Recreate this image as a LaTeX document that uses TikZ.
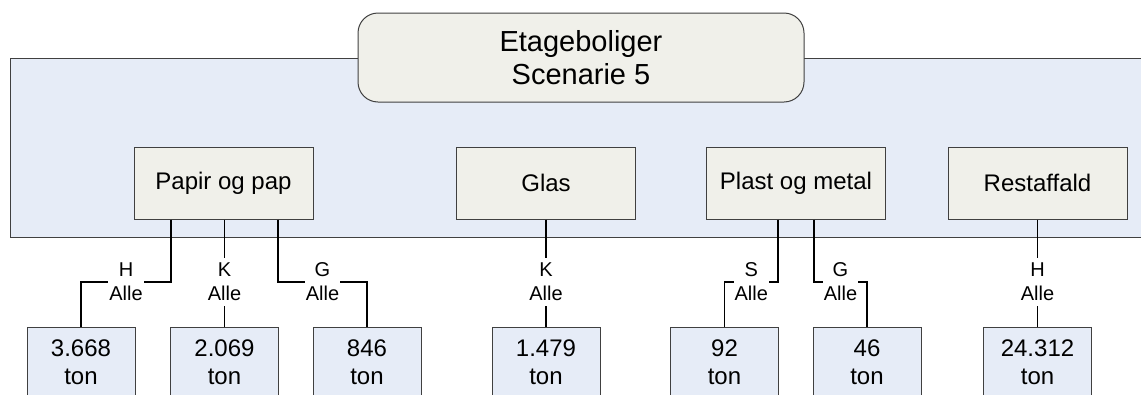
\documentclass[tikz,border=0pt]{standalone}
\usepackage{fontspec}
\setmainfont{Liberation Sans}
\usetikzlibrary{calc}
\definecolor{bgblue}{RGB}{230,236,247}
\definecolor{boxfill}{RGB}{240,240,234}
\definecolor{edgegray}{RGB}{64,64,64}
\begin{document}
\begin{tikzpicture}[x=1pt,y=-1pt,
 region/.style={draw=edgegray, line width=1pt, fill=bgblue, inner sep=0pt, minimum width=1150pt, minimum height=179pt},
 titlebox/.style={draw=edgegray, line width=1pt, fill=boxfill, rounded corners=20pt, minimum width=446pt, minimum height=89pt, align=center, font=\fontsize{29}{33}\selectfont, inner sep=0pt},
 catbox/.style={draw=edgegray, line width=1pt, fill=boxfill, minimum width=179pt, minimum height=72pt, font=\fontsize{24}{28}\selectfont, inner sep=0pt},
 resbox/.style={draw=edgegray, line width=1pt, fill=bgblue, minimum width=108pt, minimum height=70pt, align=center, font=\fontsize{24}{28}\selectfont, inner sep=0pt},
 lbl/.style={fill=white, align=center, inner xsep=1pt, inner ysep=5pt, font=\fontsize{20}{24}\selectfont},
 conn/.style={draw=black, line width=1.5pt}]
\clip (0,0) rectangle (1141,394);
\node[region] (reg) at (585,147.5) {};
\node[titlebox] (title) at (581,57.5) {Etageboliger\\Scenarie 5};
\node[catbox] (pap) at (223.5,183) {Papir og pap};
\node[catbox] (glas) at (546,183) {Glas};
\node[catbox] (plast) at (796,183) {Plast og metal};
\node[catbox] (rest) at (1037.5,183) {Restaffald};
\node[resbox] (r1) at (81,362) {3.668\\ton};
\node[resbox] (r2) at (224.5,362) {2.069\\ton};
\node[resbox] (r3) at (367,362) {846\\ton};
\node[resbox] (r4) at (546,362) {1.479\\ton};
\node[resbox] (r5) at (724.5,362) {92\\ton};
\node[resbox] (r6) at (867,362) {46\\ton};
\node[resbox] (r7) at (1037.5,362) {24.312\\ton};
\coordinate (e1) at (171,282);
\coordinate (e3) at (278,282);
\coordinate (e5) at (778,282);
\coordinate (e6) at (814,282);
\draw[conn] (e1 |- pap.south) -- (e1) -| (r1.north);
\draw[conn] (pap.south -| r2.north) -- (r2.north);
\draw[conn] (e3 |- pap.south) -- (e3) -| (r3.north);
\draw[conn] (glas.south) -- (r4.north);
\draw[conn] (e5 |- plast.south) -- (e5) -| (r5.north);
\draw[conn] (e6 |- plast.south) -- (e6) -| (r6.north);
\draw[conn] (rest.south) -- (r7.north);
\node[lbl] (l1) at ($(e1)!0.5!(e1 -| r1.north)$) {H\\Alle};
\node[lbl] (l2) at (r2.north |- e1) {K\\Alle};
\node[lbl] (l3) at ($(e3)!0.5!(e3 -| r3.north)$) {G\\Alle};
\node[lbl] (l4) at (r4.north |- e1) {K\\Alle};
\node[lbl] (l5) at ($(e5)!0.5!(e5 -| r5.north)$) {S\\Alle};
\node[lbl] (l6) at ($(e6)!0.5!(e6 -| r6.north)$) {G\\Alle};
\node[lbl] (l7) at (r7.north |- e1) {H\\Alle};
\end{tikzpicture}
\end{document}
